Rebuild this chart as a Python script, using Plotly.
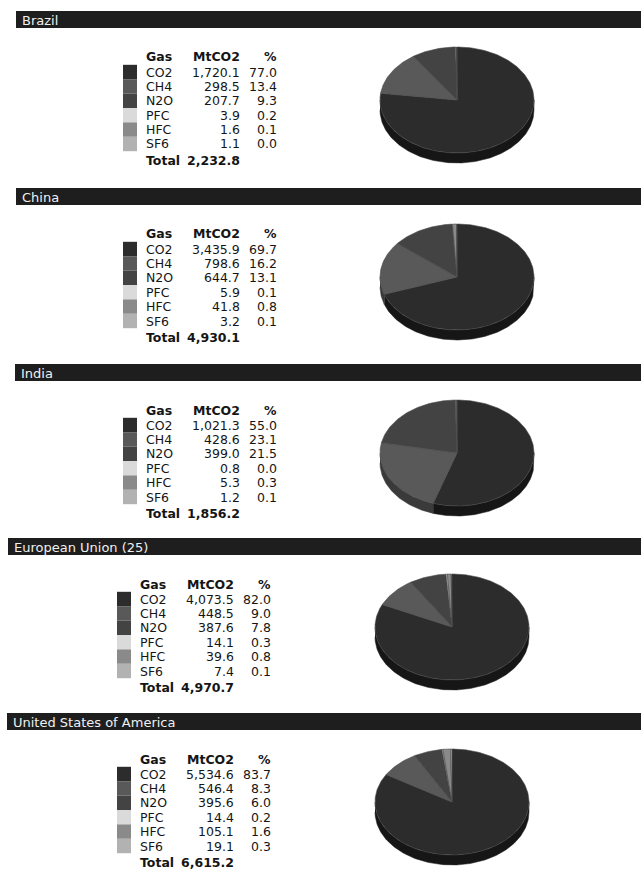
import numpy as np
import plotly.graph_objects as go

# Greenhouse gas emissions by gas, MtCO2 equivalent
countries = ["Brazil", "China", "India", "European Union (25)", "United States of America"]
gases = ["CO2", "CH4", "N2O", "PFC", "HFC", "SF6"]

brazil_mt = [1720.1, 298.5, 207.7, 3.9, 1.6, 1.1]
china_mt = [3435.9, 798.6, 644.7, 5.9, 41.8, 3.2]
india_mt = [1021.3, 428.6, 399.0, 0.8, 5.3, 1.2]
eu_mt = [4073.5, 448.5, 387.6, 14.1, 39.6, 7.4]
usa_mt = [5534.6, 546.4, 395.6, 14.4, 105.1, 19.1]

brazil_pct = [77.0, 13.4, 9.3, 0.2, 0.1, 0.0]
china_pct = [69.7, 16.2, 13.1, 0.1, 0.8, 0.1]
india_pct = [55.0, 23.1, 21.5, 0.0, 0.3, 0.1]
eu_pct = [82.0, 9.0, 7.8, 0.3, 0.8, 0.1]
usa_pct = [83.7, 8.3, 6.0, 0.2, 1.6, 0.3]

totals = [2232.8, 4930.1, 1856.2, 4970.7, 6615.2]

mt_values = [brazil_mt, china_mt, india_mt, eu_mt, usa_mt]
pct_values = [brazil_pct, china_pct, india_pct, eu_pct, usa_pct]

# Styling
top_colors = ["#2c2c2c", "#595959", "#434343", "#dadada", "#8a8a8a", "#b2b2b2"]
side_colors = ["#161616", "#3a3a3a", "#262626", "#a8a8a8", "#5e5e5e", "#808080"]
bar_color = "#1e1e1e"
text_color = "#151515"
font_family = "DejaVu Sans"
table_size = 12.5
header_size = 13

W, H = 641, 884
panel_tops = [11, 188, 364, 538, 713]
bar_left = [16, 16, 15, 8, 7]
table_shift = [0, 0, 0, -6, -6]
pie_cx = [457, 457, 457, 452, 452]
bar_h = 17
rx, ry, depth = 77.0, 53.0, 10.0
row_gap = 14.4


def px(x):
    return x / W


def py(y):
    return 1 - y / H


fig = go.Figure()
shapes = []
annotations = []


def arc(t0, t1):
    n = max(2, int(abs(t1 - t0) / (np.pi / 180)) + 2)
    return np.linspace(t0, t1, n)


for p, name in enumerate(countries):
    top = panel_tops[p]
    dx = table_shift[p]

    # header bar with country name
    shapes.append(dict(type="rect", xref="paper", yref="paper",
                       x0=px(bar_left[p]), x1=1.0,
                       y0=py(top + bar_h), y1=py(top),
                       fillcolor=bar_color, line=dict(width=0), layer="below"))
    annotations.append(dict(text=name, xref="paper", yref="paper",
                            x=px(bar_left[p] + 4), y=py(top + bar_h / 2 + 0.5),
                            xanchor="left", yanchor="middle", showarrow=False,
                            font=dict(family=font_family, size=header_size, color="#f0f0f0")))

    # table header
    head_y = py(top + 46)
    for txt, xx, anc in [("Gas", 144, "left"), ("MtCO2", 242, "right"), ("%", 279, "right")]:
        annotations.append(dict(text=f"<b>{txt}</b>", xref="paper", yref="paper",
                                x=px(xx + dx), y=head_y, xanchor=anc, yanchor="middle",
                                showarrow=False,
                                font=dict(family=font_family, size=table_size, color=text_color)))

    # table rows with colour swatches
    for i, gas in enumerate(gases):
        yc = top + 61 + row_gap * i
        shapes.append(dict(type="rect", xref="paper", yref="paper",
                           x0=px(123 + dx), x1=px(137 + dx),
                           y0=py(yc + row_gap / 2), y1=py(yc - row_gap / 2),
                           fillcolor=top_colors[i], line=dict(width=0)))
        for txt, xx, anc in [(gas, 144, "left"),
                             (f"{mt_values[p][i]:,.1f}", 242, "right"),
                             (f"{pct_values[p][i]:.1f}", 279, "right")]:
            annotations.append(dict(text=txt, xref="paper", yref="paper",
                                    x=px(xx + dx), y=py(yc), xanchor=anc, yanchor="middle",
                                    showarrow=False,
                                    font=dict(family=font_family, size=table_size, color=text_color)))

    # total row
    ty = py(top + 149)
    annotations.append(dict(text="<b>Total</b>", xref="paper", yref="paper",
                            x=px(144 + dx), y=ty, xanchor="left", yanchor="middle",
                            showarrow=False,
                            font=dict(family=font_family, size=table_size, color=text_color)))
    annotations.append(dict(text=f"<b>{totals[p]:,.1f}</b>", xref="paper", yref="paper",
                            x=px(242 + dx), y=ty, xanchor="right", yanchor="middle",
                            showarrow=False,
                            font=dict(family=font_family, size=table_size, color=text_color)))

    # tilted pie on its own axes: unit circle squashed by the axis scales
    cx = pie_cx[p]
    cy = top + 89
    half_w, half_h = 95, 70
    ax_id = "" if p == 0 else str(p + 1)
    fig.update_layout(**{
        f"xaxis{ax_id}": dict(domain=[px(cx - half_w), px(cx + half_w)],
                              range=[-half_w / rx, half_w / rx], visible=False,
                              fixedrange=True, anchor=f"y{ax_id}"),
        f"yaxis{ax_id}": dict(domain=[py(cy + half_h), py(cy - half_h)],
                              range=[-half_h / ry, half_h / ry], visible=False,
                              fixedrange=True, anchor=f"x{ax_id}"),
    })
    xa, ya = f"x{ax_id}", f"y{ax_id}"
    d = depth / ry

    vals = np.array(mt_values[p], dtype=float)
    cum = np.concatenate([[0.0], np.cumsum(vals) / vals.sum()])
    starts = np.pi / 2 - 2 * np.pi * cum[:-1]
    ends = np.pi / 2 - 2 * np.pi * cum[1:]

    # visible rim on the front (lower) half of the pie
    for i in range(len(gases)):
        a0, a1 = ends[i], starts[i]  # a0 < a1
        for k in (-1, 0, 1):
            lo = max(a0, -np.pi + 2 * np.pi * k)
            hi = min(a1, 0.0 + 2 * np.pi * k)
            if hi - lo > 1e-6:
                t = arc(lo, hi)
                xs = np.concatenate([np.cos(t), np.cos(t[::-1])])
                ys = np.concatenate([np.sin(t), np.sin(t[::-1]) - d])
                fig.add_trace(go.Scatter(x=xs, y=ys, xaxis=xa, yaxis=ya,
                                         mode="lines", fill="toself",
                                         fillcolor=side_colors[i],
                                         line=dict(width=0.5, color=side_colors[i]),
                                         hoverinfo="skip", showlegend=False))

    # top surface wedges
    for i, gas in enumerate(gases):
        t = arc(starts[i], ends[i])
        xs = np.concatenate([[0.0], np.cos(t), [0.0]])
        ys = np.concatenate([[0.0], np.sin(t), [0.0]])
        fig.add_trace(go.Scatter(x=xs, y=ys, xaxis=xa, yaxis=ya,
                                 mode="lines", fill="toself",
                                 fillcolor=top_colors[i],
                                 line=dict(width=0.6, color="#4a4a4a"),
                                 name=gas, hoverinfo="name", showlegend=False))

fig.update_layout(width=W, height=H, margin=dict(l=0, r=0, t=0, b=0),
                  paper_bgcolor="white", plot_bgcolor="white",
                  shapes=shapes, annotations=annotations, showlegend=False)

fig.write_html("out.html")
